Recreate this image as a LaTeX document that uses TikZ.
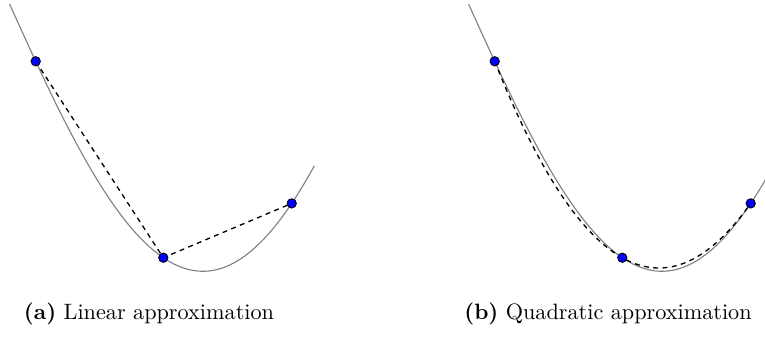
\documentclass[tikz,border=0pt]{standalone}
\begin{document}
\begin{tikzpicture}[x=0.45pt,y=-0.45pt,
  declare function={
    fq(\u)=268-76.67*(\u-1.999)*(\u-1.999);
    fg(\u)=fq(\u)+(\u-0.357)*(\u-1.633)*(\u-2.917)*(-7+3.37*(\u-1.633));
  },
  curve/.style={draw=gray, line width=0.5pt},
  approx/.style={draw=black, dash pattern=on 2.2pt off 2pt, line width=0.6pt},
  dot/.style={circle, fill=blue, draw=black, line width=0.4pt, inner sep=0pt, minimum size=4.2pt},
  captext/.style={anchor=base}]
\useasboundingbox (0,0) rectangle (765,338);
\clip (0,0) rectangle (765,338);
% (a) linear approximation
\coordinate (a1) at (35.7,61.3);
\coordinate (a2) at (163.3,257.7);
\coordinate (a3) at (291.7,203.4);
\draw[curve] plot[domain=0.095:3.143, samples=140, smooth] ({100*\x},{fg(\x)});
\draw[approx] (a1) -- (a2) -- (a3);
\node[dot] (da1) at (a1) {};
\node[dot] (da2) at (a2) {};
\node[dot] (da3) at (a3) {};
\node[captext] (capa) at (149,319) {\textbf{(a)} Linear approximation};
% (b) quadratic approximation
\begin{scope}[shift={(459,0)}]
\coordinate (b1) at (35.7,61.3);
\coordinate (b2) at (163.3,257.7);
\coordinate (b3) at (291.7,203.4);
\draw[curve] plot[domain=0.095:3.143, samples=140, smooth] ({100*\x},{fg(\x)});
\draw[approx] plot[domain=0.357:2.917, samples=90, smooth] ({100*\x},{fq(\x)});
\node[dot] (db1) at (b1) {};
\node[dot] (db2) at (b2) {};
\node[dot] (db3) at (b3) {};
\end{scope}
\node[captext] (capb) at (608,319) {\textbf{(b)} Quadratic approximation};
\end{tikzpicture}
\end{document}
